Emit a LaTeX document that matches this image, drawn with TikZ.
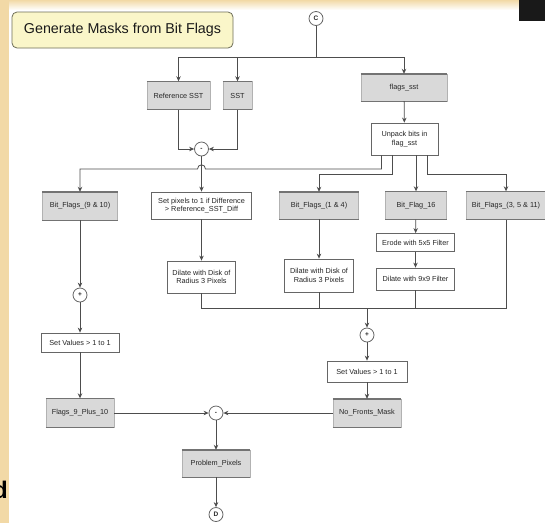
\documentclass[tikz,border=0pt]{standalone}
\usepackage{fontspec}
\setmainfont{Liberation Sans}
\usetikzlibrary{arrows.meta,calc}

\definecolor{slidetan}{HTML}{F2D9A6}
\definecolor{titlefill}{HTML}{FAF6C9}
\definecolor{titleedge}{HTML}{6E6E58}
\definecolor{blockgray}{HTML}{D9D9D9}
\definecolor{linkgray}{HTML}{4D4D4D}

\begin{document}
\begin{tikzpicture}[x=1pt, y=-1pt, >={Stealth[length=5pt,width=4.5pt]},
        every node/.style={font=\fontsize{7.3}{8.6}\selectfont, align=center, inner sep=1pt, text=black!85},
        datablock/.style={fill=blockgray, draw=black!30, line width=0.4pt},
        procbox/.style={fill=white, draw=black!60, line width=0.8pt},
        junction/.style={circle, fill=white, draw=black!60, line width=0.8pt, minimum size=14pt, inner sep=0pt, font=\fontsize{6.5}{6.5}\selectfont\bfseries},
        link/.style={draw=linkgray, line width=0.8pt},
        flow/.style={link, ->}]
        \useasboundingbox (0,0) rectangle (545,523);
        % slide backdrop
        \fill[white] (0,0) rectangle (545,523);
        \shade[top color=slidetan, bottom color=white] (0,0) rectangle (545,10);
        \fill[slidetan] (0,0) rectangle (9,523);
        \fill[black!90] (519,0) rectangle (545,21);
        \node[anchor=base east, inner sep=0pt, text=black, font=\fontsize{24}{24}\selectfont\bfseries] (cutd) at (8,498) {d};

        % nodes
        \node[draw=titleedge, fill=titlefill, rounded corners=5pt, line width=0.8pt, minimum width=221pt, minimum height=36pt, text=black!90, font=\fontsize{14.3}{16}\selectfont] (title) at (122.5,30) {Generate Masks from Bit Flags};
        \node[junction] (cin) at (316,18.5) {C};
        \node[datablock, minimum width=63pt, minimum height=28pt] (refsst) at (178.5,95.5) {Reference SST};
        \node[datablock, minimum width=29pt, minimum height=28pt] (sst) at (237.5,95.5) {SST};
        \node[datablock, minimum width=86pt, minimum height=27pt] (flags) at (404,87.5) {flags\_sst};
        \node[procbox, minimum width=67pt, minimum height=32pt] (unpack) at (404.5,139) {Unpack bits in\\ flag\_sst};
        \node[junction] (diffA) at (201.5,149) {-};

        \node[datablock, minimum width=75pt, minimum height=28pt] (bf910) at (80,206) {Bit\_Flags\_(9 \& 10)};
        \node[procbox, minimum width=100pt, minimum height=27pt] (setpix) at (201.5,205.5) {Set pixels to 1 if Difference\\ > Reference\_SST\_Diff};
        \node[datablock, minimum width=79pt, minimum height=27pt] (bf14) at (319,205.5) {Bit\_Flags\_(1 \& 4)};
        \node[datablock, minimum width=61pt, minimum height=28pt] (bf16) at (416,205.5) {Bit\_Flag\_16};
        \node[datablock, minimum width=80pt, minimum height=28pt] (bf3511) at (506,205.5) {Bit\_Flags\_(3, 5 \& 11)};

        \node[procbox, minimum width=78pt, minimum height=18pt] (erode) at (415.5,242.5) {Erode with 5x5 Filter};
        \node[procbox, minimum width=78pt, minimum height=22pt] (dil9) at (415.5,279) {Dilate with 9x9 Filter};
        \node[procbox, minimum width=68pt, minimum height=32pt] (dilL) at (201.5,277) {Dilate with Disk of\\ Radius 3 Pixels};
        \node[procbox, minimum width=69pt, minimum height=33pt] (dilR) at (319,275.5) {Dilate with Disk of\\ Radius 3 Pixels};

        \node[junction] (plusL) at (80,295) {+};
        \node[procbox, minimum width=78pt, minimum height=19pt] (setL) at (80,342.5) {Set Values > 1 to 1};
        \node[junction] (plusR) at (367,335) {+};
        \node[procbox, minimum width=80pt, minimum height=21pt] (setR) at (367,371.5) {Set Values > 1 to 1};

        \node[datablock, minimum width=68pt, minimum height=29pt] (flags910) at (80,413) {Flags\_9\_Plus\_10};
        \node[datablock, minimum width=68pt, minimum height=28pt] (nofronts) at (367,413) {No\_Fronts\_Mask};
        \node[junction] (diffB) at (216,413) {-};
        \node[datablock, minimum width=68pt, minimum height=27pt] (problem) at (216,463.5) {Problem\_Pixels};
        \node[junction] (dout) at (216,514.5) {D};

        % heavy top and bottom edges of the data blocks
        \foreach \b in {refsst, sst, flags, bf910, bf14, bf16, bf3511, flags910, nofronts, problem}
            \draw[line width=1.4pt, black!55] (\b.north west) -- (\b.north east) (\b.south west) -- (\b.south east);

        % helper points
        \coordinate (split) at (316,57);
        \coordinate (hopR) at (205.5,169);
        \coordinate (hopL) at (197.5,169);
        \coordinate (merge) at (367,308.5);

        % inputs
        \draw[link] (cin) -- (split);
        \draw[flow] (split) -| (refsst);
        \draw[flow] (split) -| (sst);
        \draw[flow] (split) -| (flags);
        \draw[flow] (flags) -- (unpack);
        \draw[flow] (refsst) |- (diffA);
        \draw[flow] (sst) |- (diffA);
        \draw[flow] (diffA) -- (setpix);

        % unpacked bit flags
        \draw[flow] ([xshift=-23pt]unpack.south) |- (hopR)
            .. controls ($(hopR)+(0,-5.5)$) and ($(hopL)+(0,-5.5)$) .. (hopL) -| (bf910);
        \draw[flow] ([xshift=-12.5pt]unpack.south) -- ++(0,19) -| (bf14);
        \draw[flow] (unpack.south -| bf16) -- (bf16);
        \draw[flow] ([xshift=22.5pt]unpack.south) -- ++(0,19) -| (bf3511);

        % filters
        \draw[flow] (setpix) -- (dilL);
        \draw[flow] (bf14) -- (dilR);
        \draw[flow] (bf16) -- (erode);
        \draw[flow] (erode) -- (dil9);
        \draw[link] (dilL) |- (merge);
        \draw[link] (dilR) |- (merge);
        \draw[link] (dil9) |- (merge);
        \draw[link] (bf3511) |- (merge);
        \draw[flow] (merge) -- (plusR);
        \draw[flow] (plusR) -- (setR);
        \draw[flow] (setR) -- (nofronts);

        \draw[flow] (bf910) -- (plusL);
        \draw[flow] (plusL) -- (setL);
        \draw[flow] (setL) -- (flags910);

        % final difference
        \draw[flow] (flags910) -- (diffB);
        \draw[flow] (nofronts) -- (diffB);
        \draw[flow] (diffB) -- (problem);
        \draw[flow] (problem) -- (dout);
    \end{tikzpicture}
\end{document}
